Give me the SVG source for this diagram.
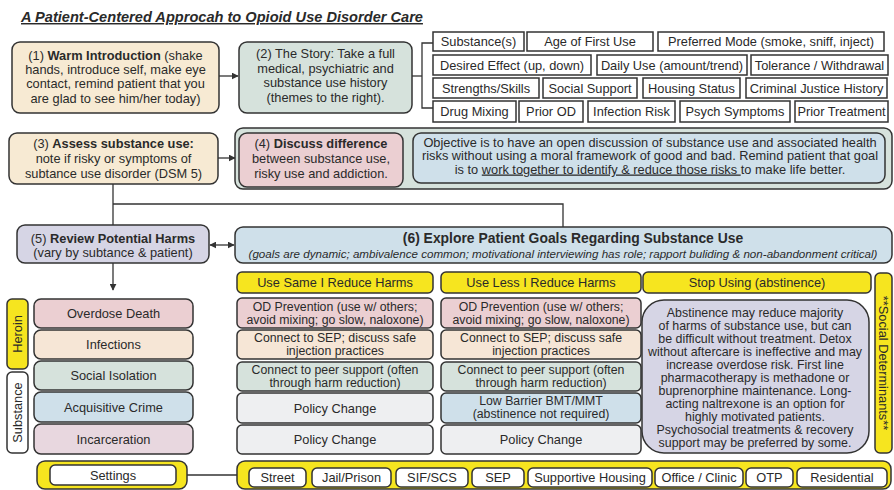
<svg xmlns="http://www.w3.org/2000/svg" width="894" height="490" viewBox="0 0 894 490">
<style>
text{font-family:"Liberation Sans",Arial,sans-serif;font-size:12.8px;fill:#2a2a2a;text-anchor:middle}
.b{font-weight:bold}
.box{stroke:#333;stroke-width:1.5}
.t{fill:#fff;stroke:#333;stroke-width:1.5}
.ln{fill:none;stroke:#333;stroke-width:1.3}
.beige{fill:#f7ead3}
.green{fill:#d6e2dc}
.pink{fill:#ebcfd2}
.blue{fill:#cfe0ea}
.lav{fill:#d6d5e5}
.yel{fill:#f6e51f}
.gray{fill:#eeeff1}
.peach{fill:#f6e6d6}
.mauve{fill:#e8d7df}
.tl{font-size:12.3px}
.ab text{font-size:12.4px}
</style>
<defs>
<marker id="ah" viewBox="0 0 10 10" refX="9" refY="5" markerWidth="7" markerHeight="7" orient="auto-start-reverse" markerUnits="userSpaceOnUse">
<path d="M0,0 L10,5 L0,10 z" fill="#333"/>
</marker>
</defs>

<text x="21" y="22" class="b" style="font-style:italic;font-size:14.6px;text-decoration:underline;text-anchor:start">A Patient-Centered Approcah to Opioid Use Disorder Care</text>

<g id="connectors">
<line class="ln" x1="219" y1="76" x2="238" y2="76" marker-end="url(#ah)"/>
<line class="ln" x1="412" y1="76" x2="422" y2="76"/>
<path class="ln" d="M433,43 H422 V108 H433"/>
<line class="ln" x1="218" y1="158" x2="235" y2="158" marker-end="url(#ah)"/>
<path class="ln" d="M113,184 V225"/>
<path class="ln" d="M113,204 H563 V227"/>
<line class="ln" x1="210" y1="245" x2="234" y2="245" marker-start="url(#ah)" marker-end="url(#ah)"/>
<line class="ln" x1="113" y1="263" x2="113" y2="290" marker-end="url(#ah)"/>
<line class="ln" x1="187" y1="475" x2="237" y2="475"/>
</g>

<g id="n1">
<rect class="box beige" x="12" y="42" width="207" height="71" rx="8"/>
<text x="115.5" y="59.5">(1)  <tspan class="b">Warm Introduction</tspan> (shake</text>
<text x="115.5" y="73.5">hands, introduce self, make eye</text>
<text x="115.5" y="88">contact, remind patient that you</text>
<text x="115.5" y="102.5">are glad to see him/her today)</text>
</g>

<g id="n2">
<rect class="box green" x="239" y="42" width="173" height="71" rx="8"/>
<text x="325.5" y="58">(2)  The Story: Take a full</text>
<text x="325.5" y="72.5">medical, psychiatric and</text>
<text x="325.5" y="87">substance use history</text>
<text x="325.5" y="101.5">(themes to the right).</text>
</g>

<g id="themes">
<rect class="t" x="433" y="32" width="91" height="19"/><text x="478.5" y="46">Substance(s)</text>
<rect class="t" x="527" y="32" width="126" height="19"/><text x="590" y="46">Age of First Use</text>
<rect class="t" x="658" y="32" width="226" height="19"/><text x="771" y="46">Preferred Mode (smoke, sniff, inject)</text>
<rect class="t" x="433" y="55" width="158" height="20"/><text x="512" y="69.5">Desired Effect (up, down)</text>
<rect class="t" x="597" y="55" width="150" height="20"/><text x="672" y="69.5">Daily Use (amount/trend)</text>
<rect class="t" x="751" y="55" width="137" height="20"/><text x="819.5" y="69.5">Tolerance / Withdrawal</text>
<rect class="t" x="433" y="78" width="106" height="20"/><text x="486" y="92.5">Strengths/Skills</text>
<rect class="t" x="543" y="78" width="94" height="20"/><text x="590" y="92.5">Social Support</text>
<rect class="t" x="643" y="78" width="97" height="20"/><text x="691.5" y="92.5">Housing Status</text>
<rect class="t" x="746" y="78" width="141" height="20"/><text x="816.5" y="92.5">Criminal Justice History</text>
<rect class="t" x="433" y="101" width="83" height="21"/><text x="474.5" y="116">Drug Mixing</text>
<rect class="t" x="519" y="101" width="64" height="21"/><text x="551" y="116">Prior OD</text>
<rect class="t" x="588" y="101" width="87" height="21"/><text x="631.5" y="116">Infection Risk</text>
<rect class="t" x="680" y="101" width="110" height="21"/><text x="735" y="116">Psych Symptoms</text>
<rect class="t" x="795" y="101" width="93" height="21"/><text x="841.5" y="116">Prior Treatment</text>
</g>

<g id="n3">
<rect class="box beige" x="9" y="133" width="209" height="51" rx="8"/>
<text x="113.5" y="147.5">(3)  <tspan class="b">Assess substance use:</tspan></text>
<text x="113.5" y="162.5">note if risky or symptoms of</text>
<text x="113.5" y="177.5">subtance use disorder (DSM 5)</text>
</g>

<g id="n4">
<rect class="box green" x="235" y="128" width="657" height="61" rx="8"/>
<rect class="box pink" x="239" y="133" width="164" height="54" rx="8"/>
<text x="321" y="147.5">(4)  <tspan class="b">Discuss difference</tspan></text>
<text x="321" y="162.5">between substance use,</text>
<text x="321" y="177.5">risky use and addiction.</text>
<rect class="box blue" x="413" y="133" width="472" height="50" rx="8"/>
<text x="650" y="146.5">Objective is to have an open discussion of substance use and associated health</text>
<text x="650" y="160">risks without using a moral framework of good and bad. Remind patient that goal</text>
<text x="650" y="173.5">is to <tspan style="text-decoration:underline">work together to identify &amp; reduce those risks </tspan>to make life better.</text>
</g>

<g id="n5">
<rect class="box lav" x="17" y="225" width="192" height="38" rx="8"/>
<text x="113" y="242.5">(5)  <tspan class="b">Review Potential Harms</tspan></text>
<text x="113" y="257">(vary by subtance &amp; patient)</text>
</g>

<g id="n6">
<rect class="box blue" x="235" y="227" width="657" height="36" rx="8"/>
<text x="573" y="243" class="b" style="font-size:13.9px">(6)  Explore Patient Goals Regarding Substance Use</text>
<text x="563" y="257.5" style="font-style:italic;font-size:11.6px">(goals are dynamic; ambivalence common; motivational interviewing has role; rapport buliding &amp; non-abandonment critical)</text>
</g>

<g id="harms">
<rect class="box yel" x="7" y="299" width="21" height="70" rx="5"/>
<text transform="translate(22,334) rotate(-90)">Heroin</text>
<rect class="t" x="7" y="372" width="21" height="81" rx="5"/>
<text transform="translate(22,412.5) rotate(-90)">Substance</text>
<rect class="box pink" x="34" y="299" width="159" height="29" rx="7"/><text x="113.5" y="318">Overdose Death</text>
<rect class="box peach" x="34" y="330" width="159" height="29" rx="7"/><text x="113.5" y="349">Infections</text>
<rect class="box green" x="34" y="361" width="159" height="29" rx="7"/><text x="113.5" y="380">Social Isolation</text>
<rect class="box blue" x="34" y="392" width="159" height="30" rx="7"/><text x="113.5" y="411.5">Acquisitive Crime</text>
<rect class="box mauve" x="34" y="424" width="159" height="30" rx="7"/><text x="113.5" y="443.5">Incarceration</text>
</g>

<g id="col1">
<rect class="box yel" x="237" y="272" width="196" height="21" rx="5"/><text x="335" y="287">Use Same I Reduce Harms</text>
<rect class="box pink" x="237" y="298" width="196" height="30" rx="5"/>
<text class="tl" x="335" y="310.5">OD Prevention (use w/ others;</text>
<text class="tl" x="335" y="323.5">avoid mixing; go slow, naloxone)</text>
<rect class="box peach" x="237" y="330" width="196" height="29" rx="5"/>
<text class="tl" x="335" y="342">Connect to SEP; discuss safe</text>
<text class="tl" x="335" y="355">injection practices</text>
<rect class="box green" x="237" y="362" width="196" height="29" rx="5"/>
<text class="tl" x="335" y="373.5">Connect to peer support (often</text>
<text class="tl" x="335" y="386.5">through harm reduction)</text>
<rect class="box gray" x="237" y="393" width="196" height="30" rx="5"/><text x="335" y="412.5">Policy Change</text>
<rect class="box gray" x="237" y="425" width="196" height="29" rx="5"/><text x="335" y="444">Policy Change</text>
</g>

<g id="col2">
<rect class="box yel" x="441" y="272" width="200" height="21" rx="5"/><text x="541" y="287">Use Less I Reduce Harms</text>
<rect class="box pink" x="441" y="298" width="200" height="30" rx="5"/>
<text class="tl" x="541" y="310.5">OD Prevention (use w/ others;</text>
<text class="tl" x="541" y="323.5">avoid mixing; go slow, naloxone)</text>
<rect class="box peach" x="441" y="330" width="200" height="29" rx="5"/>
<text class="tl" x="541" y="342">Connect to SEP; discuss safe</text>
<text class="tl" x="541" y="355">injection practices</text>
<rect class="box green" x="441" y="362" width="200" height="29" rx="5"/>
<text class="tl" x="541" y="373.5">Connect to peer support (often</text>
<text class="tl" x="541" y="386.5">through harm reduction)</text>
<rect class="box blue" x="441" y="393" width="200" height="30" rx="5"/>
<text class="tl" x="541" y="405">Low Barrier BMT/MMT</text>
<text class="tl" x="541" y="418">(abstinence not required)</text>
<rect class="box gray" x="441" y="425" width="200" height="29" rx="5"/><text x="541" y="444">Policy Change</text>
</g>

<g id="col3" class="ab">
<rect class="box yel" x="643" y="272" width="228" height="21" rx="5"/><text x="757" y="287" style="font-size:12.8px">Stop Using (abstinence)</text>
<rect class="box lav" x="642" y="300" width="227" height="153" rx="22"/>
<text x="755" y="316.5">Abstinence may reduce majority</text>
<text x="755" y="329.5">of harms of substance use, but can</text>
<text x="755" y="342.5">be difficult without treatment. Detox</text>
<text x="755" y="355.5">without aftercare is ineffective and may</text>
<text x="755" y="368.5">increase overdose risk. First line</text>
<text x="755" y="381.5">pharmacotherapy is methadone or</text>
<text x="755" y="394.5">buprenorphine maintenance. Long-</text>
<text x="755" y="407.5">acting naltrexone is an option for</text>
<text x="755" y="420.5">highly motivated patients.</text>
<text x="755" y="433.5">Psychosocial treatments &amp; recovery</text>
<text x="755" y="446.5">support may be preferred by some.</text>
</g>

<g id="social">
<rect class="box yel" x="875" y="273" width="17" height="180" rx="5"/>
<text transform="translate(879,363) rotate(90)">**Social Determinants**</text>
</g>

<g id="settings">
<rect class="box yel" x="37" y="461" width="150" height="28" rx="8"/>
<rect class="t" x="50" y="465" width="126" height="20" rx="5"/>
<text x="113" y="479.5">Settings</text>
</g>

<g id="settingsList">
<rect class="box yel" x="237" y="461" width="654" height="28" rx="8"/>
<rect class="t" x="249" y="468" width="57" height="19" rx="5"/><text x="277.5" y="482">Street</text>
<rect class="t" x="312" y="468" width="79" height="19" rx="5"/><text x="351.5" y="482">Jail/Prison</text>
<rect class="t" x="396" y="468" width="72" height="19" rx="5"/><text x="432" y="482">SIF/SCS</text>
<rect class="t" x="472" y="468" width="52" height="19" rx="5"/><text x="498" y="482">SEP</text>
<rect class="t" x="528" y="468" width="124" height="19" rx="5"/><text x="590" y="482">Supportive Housing</text>
<rect class="t" x="655" y="468" width="88" height="19" rx="5"/><text x="699" y="482">Office / Clinic</text>
<rect class="t" x="746" y="468" width="47" height="19" rx="5"/><text x="769.5" y="482">OTP</text>
<rect class="t" x="797" y="468" width="90" height="19" rx="5"/><text x="842" y="482">Residential</text>
</g>
</svg>
